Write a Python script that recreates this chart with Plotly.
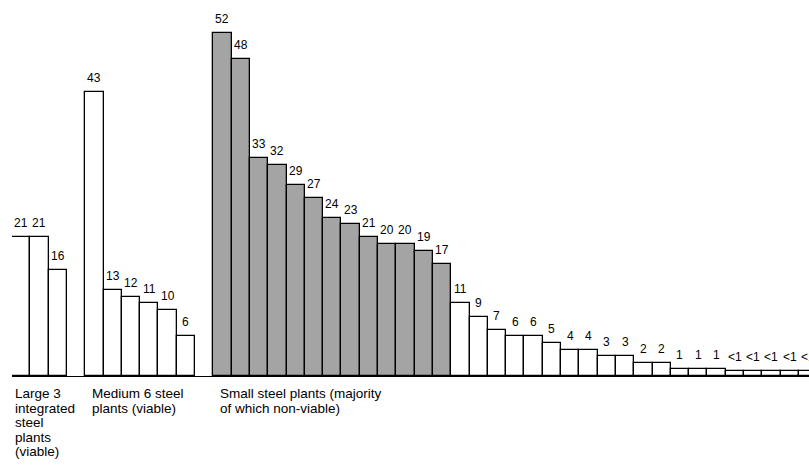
import plotly.graph_objects as go

# Data (values in order, gaps separate groups)
large_vals = [21, 21, 16]
medium_vals = [43, 13, 12, 11, 10, 6]
small_gray_vals = [52, 48, 33, 32, 29, 27, 24, 23, 21, 20, 20, 19, 17]
small_white_vals = [11, 9, 7, 6, 6, 5, 4, 4, 3, 3, 2, 2, 1, 1, 1, 0.8, 0.8, 0.8, 0.8, 0.8]
small_white_labels = ["11", "9", "7", "6", "6", "5", "4", "4", "3", "3", "2", "2",
                      "1", "1", "1", "<1", "<1", "<1", "<1", "<1"]

group_labels = [
    ["Large 3", "integrated", "steel", "plants", "(viable)"],
    ["Medium 6 steel", "plants (viable)"],
    ["Small steel plants (majority", "of which non-viable)"],
]

# positions (slots), with one empty slot between groups
x_large = list(range(0, 3))
x_medium = list(range(4, 10))
x_gray = list(range(11, 24))
x_white = list(range(24, 44))

fig = go.Figure()
line = dict(color="black", width=1.3)

fig.add_trace(go.Bar(x=x_large, y=large_vals, width=1,
                     marker=dict(color="white", line=line), showlegend=False))
fig.add_trace(go.Bar(x=x_medium, y=medium_vals, width=1,
                     marker=dict(color="white", line=line), showlegend=False))
fig.add_trace(go.Bar(x=x_gray, y=small_gray_vals, width=1,
                     marker=dict(color="#a4a4a4", line=line), showlegend=False))
fig.add_trace(go.Bar(x=x_white, y=small_white_vals, width=1,
                     marker=dict(color="white", line=line), showlegend=False))

annotations = []
label_font = dict(family="Liberation Sans, Arial, sans-serif", size=12, color="black")
all_x = x_large + x_medium + x_gray + x_white
all_y = large_vals + medium_vals + small_gray_vals + small_white_vals
all_t = [str(v) for v in large_vals + medium_vals + small_gray_vals] + small_white_labels
for xx, yy, tt in zip(all_x, all_y, all_t):
    annotations.append(dict(x=xx, y=yy, text=tt, xref="x", yref="y",
                            showarrow=False, yanchor="bottom", xanchor="center",
                            yshift=5, font=label_font))

group_x = [-0.45, 3.75, 10.75]
for gx, lines in zip(group_x, group_labels):
    for i, ln in enumerate(lines):
        annotations.append(dict(x=gx, y=0, text=ln, xref="x", yref="y",
                                showarrow=False, xanchor="left", yanchor="top",
                                yshift=-8 - 14.5 * i,
                                font=dict(family="Liberation Sans, Arial, sans-serif",
                                          size=13.5, color="black")))

fig.update_layout(
    width=809, height=466,
    margin=dict(l=12, r=0, t=10, b=90),
    paper_bgcolor="white", plot_bgcolor="white",
    bargap=0, barmode="overlay",
    annotations=annotations,
    xaxis=dict(range=[-0.5, 43.05], showgrid=False, zeroline=False,
               showticklabels=False, ticks="", showline=True,
               linecolor="black", linewidth=1.3),
    yaxis=dict(range=[0, 55.45], showgrid=False, zeroline=False,
               showticklabels=False, ticks="", showline=False),
)

fig.write_html("out.html", config={"displayModeBar": False},
               post_script="document.body.style.margin='0';")
